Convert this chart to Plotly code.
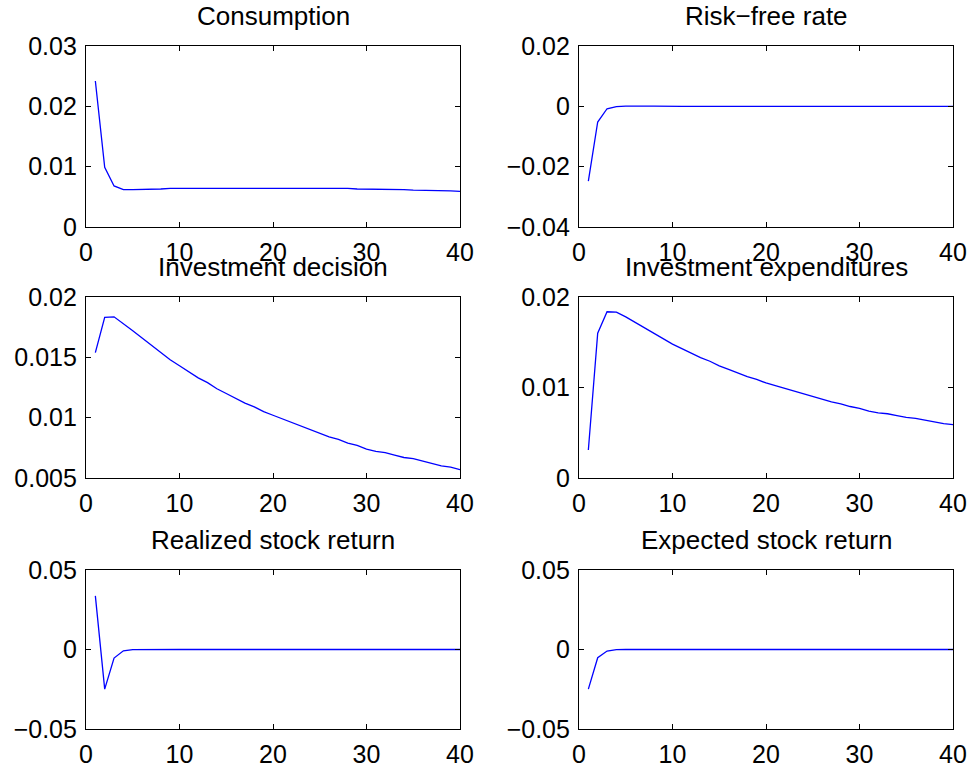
import plotly.graph_objects as go

periods = list(range(1, 41))

consumption = [0.0242, 0.0099, 0.0068, 0.0062, 0.0062, 0.0062, 0.0063, 0.0063, 0.0064, 0.0064,
               0.0064, 0.0065, 0.0065, 0.0065, 0.0065, 0.0065, 0.0065, 0.0065, 0.0065, 0.0065,
               0.0065, 0.0065, 0.0065, 0.0065, 0.0064, 0.0064, 0.0064, 0.0064, 0.0063, 0.0063,
               0.0063, 0.0062, 0.0062, 0.0062, 0.0061, 0.0061, 0.0060, 0.0060, 0.0060, 0.0059]

risk_free = [-0.0248, -0.0052, -0.0008, -0.0001, 0.0001, 0.0002, 0.0001, 0.0001, 0.0000, 0.0000,
             0.0000, 0.0000, 0.0000, 0.0000, 0.0000, 0.0000, 0.0000, 0.0000, 0.0000, 0.0000,
             0.0000, 0.0000, 0.0000, 0.0000, 0.0000, 0.0000, 0.0000, 0.0000, 0.0000, 0.0000,
             0.0000, 0.0000, 0.0000, 0.0000, 0.0000, 0.0000, 0.0000, 0.0000, 0.0000, 0.0000]

invest_decision = [0.01539, 0.01831, 0.01836, 0.0178, 0.0172, 0.0166, 0.0160, 0.0154, 0.0148, 0.0143,
                   0.0138, 0.0133, 0.0129, 0.0124, 0.0120, 0.0116, 0.0112, 0.0109, 0.0105, 0.0102,
                   0.0099, 0.0096, 0.0093, 0.0090, 0.0087, 0.0084, 0.0082, 0.0079, 0.0077, 0.0074,
                   0.0072, 0.0071, 0.0069, 0.0067, 0.0066, 0.0064, 0.0062, 0.0060, 0.0059, 0.0057]

invest_expend = [0.0031, 0.0160, 0.01837, 0.01833, 0.0178, 0.0172, 0.0166, 0.0160, 0.0154, 0.0148,
                 0.0143, 0.0138, 0.0133, 0.0129, 0.0124, 0.0120, 0.0116, 0.0112, 0.0109, 0.0105,
                 0.0102, 0.0099, 0.0096, 0.0093, 0.0090, 0.0087, 0.0084, 0.0082, 0.0079, 0.0077,
                 0.0074, 0.0072, 0.0071, 0.0069, 0.0067, 0.0066, 0.0064, 0.0062, 0.0060, 0.0059]

realized_return = [0.0337, -0.0249, -0.0054, -0.0008, -0.0001, 0.0000, 0.0000, 0.0000, 0.0000, 0.0000,
                   0.0000, 0.0000, 0.0000, 0.0000, 0.0000, 0.0000, 0.0000, 0.0000, 0.0000, 0.0000,
                   0.0000, 0.0000, 0.0000, 0.0000, 0.0000, 0.0000, 0.0000, 0.0000, 0.0000, 0.0000,
                   0.0000, 0.0000, 0.0000, 0.0000, 0.0000, 0.0000, 0.0000, 0.0000, 0.0000, 0.0000]

expected_return = [-0.0249, -0.0052, -0.0010, -0.0001, 0.0000, 0.0001, 0.0001, 0.0000, 0.0000, 0.0000,
                   0.0000, 0.0000, 0.0000, 0.0000, 0.0000, 0.0000, 0.0000, 0.0000, 0.0000, 0.0000,
                   0.0000, 0.0000, 0.0000, 0.0000, 0.0000, 0.0000, 0.0000, 0.0000, 0.0000, 0.0000,
                   0.0000, 0.0000, 0.0000, 0.0000, 0.0000, 0.0000, 0.0000, 0.0000, 0.0000, 0.0000]

titles = ["Consumption", "Risk\u2212free rate", "Investment decision",
          "Investment expenditures", "Realized stock return", "Expected stock return"]
series = [consumption, risk_free, invest_decision, invest_expend, realized_return, expected_return]

x_ticks = [0, 10, 20, 30, 40]
x_ticktext = ["0", "10", "20", "30", "40"]

y_ranges = [[0, 0.03], [-0.04, 0.02], [0.005, 0.02], [0, 0.02], [-0.05, 0.05], [-0.05, 0.05]]
y_ticks = [[0, 0.01, 0.02, 0.03], [-0.04, -0.02, 0, 0.02], [0.005, 0.01, 0.015, 0.02],
           [0, 0.01, 0.02], [-0.05, 0, 0.05], [-0.05, 0, 0.05]]
y_ticktext = [["0", "0.01", "0.02", "0.03"], ["\u22120.04", "\u22120.02", "0", "0.02"],
              ["0.005", "0.01", "0.015", "0.02"], ["0", "0.01", "0.02"],
              ["\u22120.05", "0", "0.05"], ["\u22120.05", "0", "0.05"]]

W, H = 974, 769
col_px = [(86, 460), (579, 953)]
row_px = [(46, 227), (297, 478), (570, 729)]

FONT = "Liberation Sans, Arial, Helvetica, sans-serif"
FS_TICK = 25
FS_TITLE = 26

fig = go.Figure()
annotations = []
for i in range(6):
    r, c = divmod(i, 2)
    xa = "xaxis" if i == 0 else f"xaxis{i+1}"
    ya = "yaxis" if i == 0 else f"yaxis{i+1}"
    xref = "x" if i == 0 else f"x{i+1}"
    yref = "y" if i == 0 else f"y{i+1}"
    fig.add_trace(go.Scatter(x=periods, y=series[i], mode="lines",
                             line=dict(color="#0000ff", width=1.3),
                             xaxis=xref, yaxis=yref, showlegend=False))
    x0, x1 = col_px[c]
    y0, y1 = row_px[r]
    xdom = [x0 / W, x1 / W]
    ydom = [1 - y1 / H, 1 - y0 / H]
    common = dict(showline=True, linecolor="black", linewidth=1.2, mirror="ticks",
                  ticks="inside", ticklen=5, tickwidth=1, tickcolor="black",
                  showgrid=False, zeroline=False, automargin=False,
                  tickfont=dict(family=FONT, size=FS_TICK, color="black"))
    fig.update_layout({
        xa: dict(domain=xdom, range=[0, 40], tickvals=x_ticks, ticktext=x_ticktext,
                 anchor=yref, ticklabelstandoff=3, **common),
        ya: dict(domain=ydom, range=y_ranges[i], tickvals=y_ticks[i], ticktext=y_ticktext[i],
                 anchor=xref, ticklabelstandoff=3, **common),
    })
    annotations.append(dict(text=titles[i], x=(xdom[0] + xdom[1]) / 2, y=ydom[1],
                            xref="paper", yref="paper", xanchor="center", yanchor="bottom",
                            yshift=13, showarrow=False,
                            font=dict(family=FONT, size=FS_TITLE, color="black")))

fig.update_layout(width=W, height=H, margin=dict(l=0, r=0, t=0, b=0, autoexpand=False),
                  paper_bgcolor="white", plot_bgcolor="white", template="none",
                  annotations=annotations)

fig.write_html("out.html", config={"displayModeBar": False},
               post_script="document.body.style.margin='0';document.body.style.overflow='hidden';")
